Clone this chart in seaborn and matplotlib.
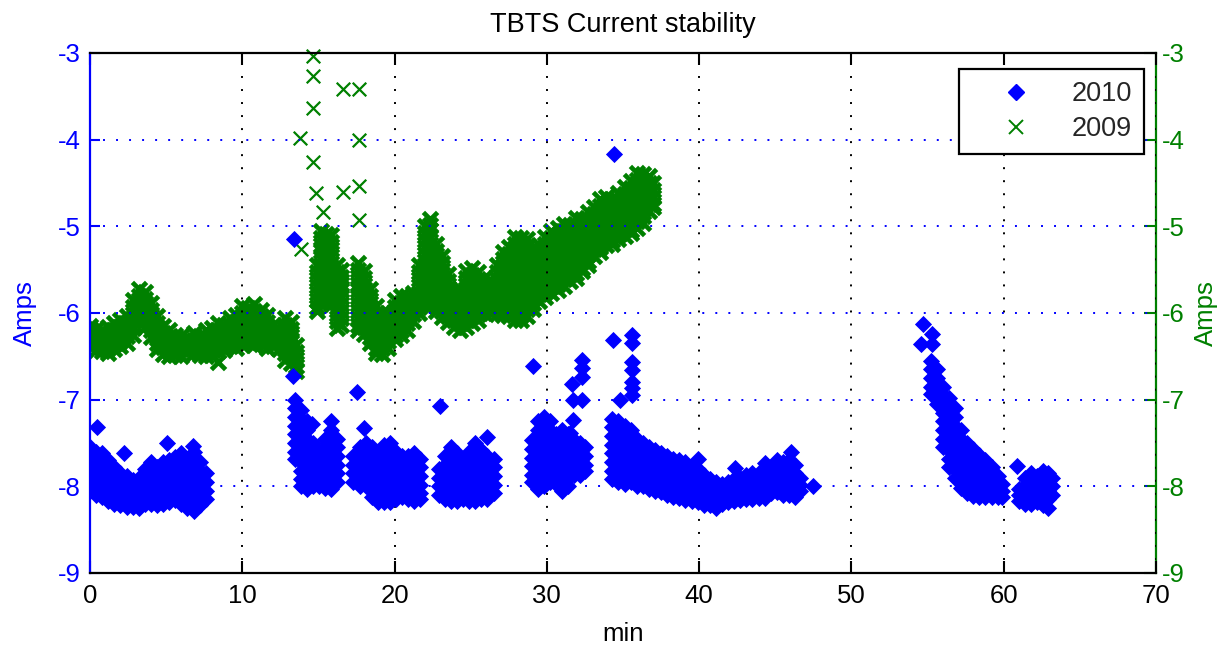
import matplotlib
matplotlib.use("Agg")
import matplotlib.pyplot as plt
from matplotlib.lines import Line2D
import numpy as np
import pandas as pd
import seaborn as sns

# ---------------------------------------------------------------------------
# 2010 run: (minute, [current readings in A]) columns, grouped by acquisition
# ---------------------------------------------------------------------------
run2010_a = [
    (0.0, [-7.55, -7.65, -7.75, -7.85, -7.95, -8.05]),
    (0.4, [-7.6, -7.7, -7.8, -7.9, -8.0, -8.1]),
    (0.8, [-7.62, -7.72, -7.82, -7.92, -8.02, -8.12]),
    (1.2, [-7.7, -7.8, -7.9, -8.0, -8.1, -8.17]),
    (1.6, [-7.78, -7.88, -7.98, -8.08, -8.2]),
    (2.0, [-7.85, -7.95, -8.05, -8.15, -8.22]),
    (2.4, [-7.88, -7.98, -8.08, -8.18, -8.24]),
    (2.8, [-7.93, -8.03, -8.13, -8.24]),
    (3.2, [-7.9, -8.0, -8.1, -8.2, -8.25]),
    (3.6, [-7.8, -7.9, -8.0, -8.1, -8.2]),
    (4.0, [-7.72, -7.82, -7.92, -8.02, -8.12, -8.2]),
    (4.4, [-7.78, -7.88, -7.98, -8.08, -8.18, -8.22]),
    (4.8, [-7.72, -7.82, -7.92, -8.02, -8.12, -8.2]),
    (5.2, [-7.7, -7.8, -7.9, -8.0, -8.1, -8.18]),
    (5.6, [-7.66, -7.76, -7.86, -7.96, -8.06, -8.16]),
    (6.0, [-7.62, -7.72, -7.82, -7.92, -8.02, -8.12, -8.2]),
    (6.4, [-7.68, -7.78, -7.88, -7.98, -8.08, -8.18, -8.25]),
    (6.8, [-7.6, -7.7, -7.8, -7.9, -8.0, -8.1, -8.2, -8.28]),
    (7.2, [-7.72, -7.82, -7.92, -8.02, -8.12, -8.22]),
    (7.6, [-7.85, -7.95, -8.05, -8.15]),
]
run2010_b = [
    (13.45, [-7.0, -7.1, -7.2, -7.3, -7.4, -7.5, -7.6, -7.68]),
    (13.85, [-7.12, -7.22, -7.32, -7.42, -7.52, -7.62, -7.72, -7.82, -7.92, -8.0]),
    (14.25, [-7.25, -7.35, -7.45, -7.55, -7.65, -7.75, -7.85, -7.95, -8.03]),
    (14.65, [-7.5, -7.6, -7.7, -7.8, -7.9, -8.0]),
    (15.05, [-7.6, -7.7, -7.8, -7.9, -8.0]),
    (15.45, [-7.45, -7.55, -7.65, -7.75, -7.85, -7.95, -8.02]),
    (15.85, [-7.25, -7.35, -7.45, -7.55, -7.65, -7.75, -7.85, -7.95, -8.03]),
    (16.25, [-7.45, -7.55, -7.65, -7.75, -7.85, -7.95]),
]
run2010_c = [
    (17.3, [-7.65, -7.75, -7.85, -7.95]),
    (17.7, [-7.55, -7.65, -7.75, -7.85, -7.95, -8.0]),
    (18.1, [-7.5, -7.6, -7.7, -7.8, -7.9, -8.0]),
    (18.5, [-7.55, -7.65, -7.75, -7.85, -7.95, -8.05, -8.12]),
    (18.9, [-7.6, -7.7, -7.8, -7.9, -8.0, -8.1, -8.18]),
    (19.3, [-7.52, -7.62, -7.72, -7.82, -7.92, -8.02, -8.12, -8.18]),
    (19.7, [-7.5, -7.6, -7.7, -7.8, -7.9, -8.0, -8.1, -8.18]),
    (20.1, [-7.6, -7.7, -7.8, -7.9, -8.0, -8.1, -8.15]),
    (20.5, [-7.65, -7.75, -7.85, -7.95, -8.05, -8.12]),
    (20.9, [-7.65, -7.75, -7.85, -7.95, -8.05, -8.15]),
    (21.3, [-7.62, -7.72, -7.82, -7.92, -8.02, -8.12, -8.17]),
    (21.7, [-7.68, -7.78, -7.88, -7.98, -8.08, -8.15]),
]
run2010_d = [
    (22.9, [-7.8, -7.9, -8.0, -8.1]),
    (23.3, [-7.65, -7.75, -7.85, -7.95, -8.05, -8.15]),
    (23.7, [-7.55, -7.65, -7.75, -7.85, -7.95, -8.05, -8.17]),
    (24.1, [-7.62, -7.72, -7.82, -7.92, -8.02, -8.12, -8.17]),
    (24.5, [-7.7, -7.8, -7.9, -8.0, -8.1, -8.15]),
    (24.9, [-7.6, -7.7, -7.8, -7.9, -8.0, -8.1, -8.17]),
    (25.3, [-7.5, -7.6, -7.7, -7.8, -7.9, -8.0, -8.1, -8.17]),
    (25.7, [-7.58, -7.68, -7.78, -7.88, -7.98, -8.08, -8.15]),
    (26.1, [-7.65, -7.75, -7.85, -7.95, -8.05, -8.15]),
    (26.5, [-7.68, -7.78, -7.88, -7.98, -8.08]),
]
run2010_e = [
    (29.0, [-7.47, -7.57, -7.67, -7.77, -7.87, -7.95]),
    (29.4, [-7.25, -7.35, -7.45, -7.55, -7.65, -7.75, -7.85, -7.95, -8.03]),
    (29.8, [-7.2, -7.3, -7.4, -7.5, -7.6, -7.7, -7.8, -7.9, -8.0]),
    (30.2, [-7.25, -7.35, -7.45, -7.55, -7.65, -7.75, -7.85, -7.95]),
    (30.6, [-7.4, -7.5, -7.6, -7.7, -7.8, -7.9, -7.97]),
    (31.0, [-7.35, -7.45, -7.55, -7.65, -7.75, -7.85, -7.95, -8.05]),
    (31.4, [-7.4, -7.5, -7.6, -7.7, -7.8, -7.9, -8.0]),
    (31.8, [-7.47, -7.57, -7.67, -7.77, -7.87]),
    (32.2, [-7.5, -7.6, -7.7, -7.8, -7.87]),
    (32.5, [-7.55, -7.65, -7.75, -7.82]),
]
run2010_f = [
    (34.3, [-7.22, -7.32, -7.42, -7.52, -7.62, -7.72, -7.82, -7.92]),
    (34.7, [-7.25, -7.35, -7.45, -7.55, -7.65, -7.75, -7.85, -7.95]),
    (35.1, [-7.3, -7.4, -7.5, -7.6, -7.7, -7.8, -7.9, -7.97]),
    (35.5, [-7.35, -7.45, -7.55, -7.65, -7.75, -7.85, -7.95]),
    (35.9, [-7.45, -7.55, -7.65, -7.75, -7.85, -7.95, -8.0]),
    (36.3, [-7.5, -7.6, -7.7, -7.8, -7.9, -8.0]),
    (36.7, [-7.55, -7.65, -7.75, -7.85, -7.95, -8.03]),
    (37.1, [-7.58, -7.68, -7.78, -7.88, -7.98, -8.05]),
    (37.5, [-7.62, -7.72, -7.82, -7.92, -8.02, -8.07]),
    (37.9, [-7.65, -7.75, -7.85, -7.95, -8.05, -8.1]),
    (38.3, [-7.68, -7.78, -7.88, -7.98, -8.08, -8.12]),
    (38.7, [-7.7, -7.8, -7.9, -8.0, -8.1, -8.14]),
    (39.1, [-7.72, -7.82, -7.92, -8.02, -8.12, -8.16]),
    (39.5, [-7.78, -7.88, -7.98, -8.08, -8.17]),
    (39.9, [-7.8, -7.9, -8.0, -8.1, -8.18]),
    (40.3, [-7.87, -7.97, -8.07, -8.17, -8.22]),
    (40.7, [-7.92, -8.02, -8.12, -8.22]),
    (41.1, [-7.95, -8.05, -8.15, -8.25]),
    (41.5, [-7.97, -8.07, -8.17, -8.2]),
    (41.9, [-7.95, -8.05, -8.15, -8.18]),
    (42.3, [-7.92, -8.02, -8.12, -8.17]),
    (42.7, [-7.9, -8.0, -8.1, -8.16]),
    (43.1, [-7.87, -7.97, -8.07, -8.15]),
    (43.5, [-7.85, -7.95, -8.05, -8.15]),
    (43.9, [-7.85, -7.95, -8.05, -8.13]),
    (44.3, [-7.83, -7.93, -8.03, -8.13]),
    (44.7, [-7.78, -7.88, -7.98, -8.08]),
    (45.1, [-7.7, -7.8, -7.9, -8.0, -8.07]),
    (45.5, [-7.72, -7.82, -7.92, -8.02, -8.1]),
    (45.9, [-7.7, -7.8, -7.9, -8.0, -8.1]),
    (46.3, [-7.75, -7.85, -7.95, -8.05, -8.12]),
    (46.6, [-7.9, -7.98, -8.05]),
]
run2010_g = [
    (55.2, [-6.55, -6.65, -6.75, -6.85, -6.93]),
    (55.6, [-6.65, -6.75, -6.85, -6.95, -7.05]),
    (56.0, [-6.85, -6.95, -7.05, -7.15, -7.25, -7.35, -7.45, -7.55]),
    (56.4, [-6.98, -7.08, -7.18, -7.28, -7.38, -7.48, -7.58, -7.68, -7.78]),
    (56.8, [-7.1, -7.2, -7.3, -7.4, -7.5, -7.6, -7.7, -7.8, -7.9]),
    (57.2, [-7.35, -7.45, -7.55, -7.65, -7.75, -7.85, -7.95, -8.02]),
    (57.6, [-7.5, -7.6, -7.7, -7.8, -7.9, -8.0, -8.08]),
    (58.0, [-7.57, -7.67, -7.77, -7.87, -7.97, -8.07, -8.11]),
    (58.4, [-7.64, -7.74, -7.84, -7.94, -8.04, -8.12]),
    (58.8, [-7.7, -7.8, -7.9, -8.0, -8.1, -8.12]),
    (59.2, [-7.78, -7.88, -7.98, -8.08, -8.12]),
    (59.6, [-7.88, -7.98, -8.08, -8.12]),
    (59.9, [-7.97, -8.05, -8.12]),
]
run2010_h = [
    (61.0, [-8.03, -8.1, -8.17]),
    (61.4, [-7.9, -8.0, -8.1, -8.2]),
    (61.8, [-7.85, -7.95, -8.05, -8.15, -8.2]),
    (62.2, [-7.88, -7.98, -8.08, -8.18]),
    (62.6, [-7.82, -7.92, -8.02, -8.12, -8.22]),
    (62.9, [-7.85, -7.95, -8.05, -8.15, -8.25]),
    (63.2, [-7.9, -8.0, -8.1]),
]
# single 2010 readings away from the main clouds
spikes2010_min = [0.44, 2.2, 5.05, 6.75, 13.3, 13.4, 14.6, 17.5, 18.0, 23.0,
                  26.1, 29.1, 31.55, 31.7, 31.7, 31.65, 32.3, 32.3, 32.3, 32.3,
                  34.35, 34.8, 34.4, 35.6, 35.6, 35.6, 35.6, 35.6, 35.6, 35.6,
                  39.9, 42.35, 44.3, 46.05, 47.5, 54.7, 55.3, 54.6, 55.3, 60.85]
spikes2010_amps = [-7.32, -7.62, -7.5, -7.53, -6.73, -5.15, -7.28, -6.91, -7.33, -7.07,
                   -7.43, -6.61, -7.38, -7.24, -7.0, -6.82, -7.0, -6.74, -6.64, -6.54,
                   -6.31, -7.0, -4.17, -6.25, -6.35, -6.56, -6.66, -6.8, -6.87, -6.95,
                   -7.69, -7.79, -7.73, -7.6, -8.0, -6.13, -6.24, -6.36, -6.36, -7.77]

# ---------------------------------------------------------------------------
# 2009 run
# ---------------------------------------------------------------------------
run2009_a = [
    (0.0, [-6.15, -6.23, -6.31, -6.39]),
    (0.4, [-6.19, -6.27, -6.35, -6.43]),
    (0.8, [-6.2, -6.28, -6.36, -6.44]),
    (1.2, [-6.16, -6.24, -6.32, -6.4, -6.46]),
    (1.6, [-6.12, -6.2, -6.28, -6.36, -6.42]),
    (2.0, [-6.08, -6.16, -6.24, -6.32, -6.38]),
    (2.4, [-6.03, -6.11, -6.19, -6.27, -6.35]),
    (2.8, [-5.85, -5.93, -6.01, -6.09, -6.17, -6.25]),
    (3.2, [-5.72, -5.8, -5.88, -5.96, -6.04, -6.12]),
    (3.6, [-5.76, -5.84, -5.92, -6.0, -6.08, -6.16]),
    (4.0, [-5.88, -5.96, -6.04, -6.12, -6.2, -6.28]),
    (4.4, [-6.03, -6.11, -6.19, -6.27, -6.35, -6.42]),
    (4.8, [-6.15, -6.23, -6.31, -6.39, -6.47]),
    (5.2, [-6.2, -6.28, -6.36, -6.44, -6.5]),
    (5.6, [-6.25, -6.33, -6.41, -6.49]),
    (6.0, [-6.26, -6.34, -6.42, -6.5]),
    (6.4, [-6.29, -6.37, -6.45]),
    (6.8, [-6.23, -6.31, -6.39, -6.46]),
    (7.2, [-6.26, -6.34, -6.42, -6.48]),
    (7.6, [-6.2, -6.28, -6.36, -6.44, -6.5]),
    (8.0, [-6.17, -6.25, -6.33, -6.41, -6.48]),
    (8.4, [-6.12, -6.2, -6.28, -6.36, -6.44, -6.57]),
    (8.8, [-6.14, -6.22, -6.3, -6.38, -6.43]),
    (9.2, [-6.06, -6.14, -6.22, -6.3, -6.38]),
    (9.6, [-6.02, -6.1, -6.18, -6.26, -6.34, -6.4]),
    (10.0, [-5.92, -6.0, -6.08, -6.16, -6.24, -6.32, -6.37]),
    (10.4, [-5.94, -6.02, -6.1, -6.18, -6.26, -6.34]),
    (10.8, [-5.9, -5.98, -6.06, -6.14, -6.22, -6.3, -6.37]),
    (11.2, [-5.96, -6.04, -6.12, -6.2, -6.28, -6.36]),
    (11.6, [-6.02, -6.1, -6.18, -6.26, -6.34, -6.4]),
    (12.0, [-6.14, -6.22, -6.3, -6.38]),
    (12.4, [-6.18, -6.26, -6.34, -6.42]),
    (12.8, [-6.06, -6.14, -6.22, -6.3, -6.38, -6.46, -6.54]),
    (13.2, [-6.1, -6.18, -6.26, -6.34, -6.42, -6.5, -6.58]),
    (13.5, [-6.37, -6.45, -6.53, -6.61, -6.67]),
]
run2009_b = [
    (14.9, [-5.45, -5.53, -5.61, -5.69, -5.77, -5.85, -5.93, -5.98]),
    (15.2, [-5.05, -5.13, -5.21, -5.29, -5.37, -5.45, -5.53, -5.61, -5.69, -5.77, -5.85, -5.9]),
    (15.5, [-5.09, -5.17, -5.25, -5.33, -5.41, -5.49, -5.57, -5.65, -5.73]),
    (15.8, [-5.1, -5.18, -5.26, -5.34, -5.42, -5.5, -5.58, -5.66, -5.74, -5.82, -5.9]),
    (16.2, [-5.45, -5.53, -5.61, -5.69, -5.77, -5.85, -5.93, -6.01, -6.09, -6.17]),
    (16.5, [-5.5, -5.58, -5.66, -5.74, -5.82, -5.9, -5.98, -6.06, -6.14]),
]
run2009_c = [
    (17.6, [-5.42, -5.5, -5.58, -5.66, -5.74, -5.82, -5.9, -5.98, -6.06, -6.14, -6.2]),
    (18.0, [-5.52, -5.6, -5.68, -5.76, -5.84, -5.92, -6.0, -6.08, -6.16, -6.24]),
    (18.4, [-5.72, -5.8, -5.88, -5.96, -6.04, -6.12, -6.2, -6.28, -6.35]),
    (18.8, [-5.92, -6.0, -6.08, -6.16, -6.24, -6.32, -6.4, -6.46]),
    (19.2, [-6.0, -6.08, -6.16, -6.24, -6.32, -6.4, -6.47]),
    (19.6, [-6.0, -6.08, -6.16, -6.24, -6.32, -6.4]),
    (20.0, [-5.85, -5.93, -6.01, -6.09, -6.17, -6.25, -6.3]),
    (20.4, [-5.8, -5.88, -5.96, -6.04, -6.12, -6.2, -6.25]),
    (20.8, [-5.8, -5.88, -5.96, -6.04, -6.12, -6.2]),
    (21.2, [-5.77, -5.85, -5.93, -6.01, -6.09]),
    (21.6, [-5.45, -5.53, -5.61, -5.69, -5.77, -5.85, -5.93, -6.0]),
    (22.0, [-5.0, -5.08, -5.16, -5.24, -5.32, -5.4, -5.48, -5.56, -5.64, -5.72, -5.8, -5.88]),
    (22.3, [-4.92, -4.98, -5.04, -5.12, -5.2, -5.28, -5.36, -5.44, -5.52, -5.6, -5.68, -5.76, -5.84, -5.92]),
    (22.7, [-5.2, -5.28, -5.36, -5.44, -5.52, -5.6, -5.68, -5.76, -5.84, -5.92, -5.98]),
    (23.1, [-5.34, -5.42, -5.5, -5.58, -5.66, -5.74, -5.82, -5.9, -5.98, -6.05]),
    (23.5, [-5.55, -5.63, -5.71, -5.79, -5.87, -5.95, -6.03, -6.1]),
    (23.9, [-5.76, -5.84, -5.92, -6.0, -6.08, -6.16]),
    (24.3, [-5.72, -5.8, -5.88, -5.96, -6.04, -6.12, -6.2]),
    (24.7, [-5.52, -5.6, -5.68, -5.76, -5.84, -5.92, -6.0, -6.08, -6.16]),
    (25.1, [-5.48, -5.56, -5.64, -5.72, -5.8, -5.88, -5.96, -6.04, -6.12]),
    (25.5, [-5.53, -5.61, -5.69, -5.77, -5.85, -5.93, -6.01, -6.08]),
    (25.9, [-5.6, -5.68, -5.76, -5.84, -5.92, -6.0]),
    (26.3, [-5.63, -5.71, -5.79, -5.87, -5.95, -6.0]),
    (26.7, [-5.45, -5.53, -5.61, -5.69, -5.77, -5.85, -5.93, -6.01]),
    (27.1, [-5.3, -5.38, -5.46, -5.54, -5.62, -5.7, -5.78, -5.86, -5.94, -6.02]),
    (27.5, [-5.24, -5.32, -5.4, -5.48, -5.56, -5.64, -5.72, -5.8, -5.88, -5.96, -6.04]),
    (27.9, [-5.12, -5.2, -5.28, -5.36, -5.44, -5.52, -5.6, -5.68, -5.76, -5.84, -5.92, -6.0, -6.08]),
    (28.3, [-5.14, -5.22, -5.3, -5.38, -5.46, -5.54, -5.62, -5.7, -5.78, -5.86, -5.94, -6.02, -6.08]),
    (28.7, [-5.15, -5.23, -5.31, -5.39, -5.47, -5.55, -5.63, -5.71, -5.79, -5.87, -5.95, -6.03]),
    (29.1, [-5.25, -5.33, -5.41, -5.49, -5.57, -5.65, -5.73, -5.81, -5.89, -5.95]),
    (29.5, [-5.22, -5.3, -5.38, -5.46, -5.54, -5.62, -5.7, -5.78, -5.86]),
    (29.9, [-5.12, -5.2, -5.28, -5.36, -5.44, -5.52, -5.6, -5.68, -5.76, -5.82]),
    (30.3, [-5.05, -5.13, -5.21, -5.29, -5.37, -5.45, -5.53, -5.61, -5.69, -5.77]),
    (30.7, [-5.02, -5.1, -5.18, -5.26, -5.34, -5.42, -5.5, -5.58, -5.66, -5.73]),
    (31.1, [-4.97, -5.05, -5.13, -5.21, -5.29, -5.37, -5.45, -5.53, -5.61, -5.69]),
    (31.5, [-4.99, -5.07, -5.15, -5.23, -5.31, -5.39, -5.47, -5.55, -5.63]),
    (31.9, [-4.9, -4.98, -5.06, -5.14, -5.22, -5.3, -5.38, -5.46, -5.54, -5.6]),
    (32.3, [-4.92, -5.0, -5.08, -5.16, -5.24, -5.32, -5.4, -5.48, -5.52]),
    (32.7, [-4.84, -4.92, -5.0, -5.08, -5.16, -5.24, -5.32, -5.4, -5.45]),
    (33.1, [-4.78, -4.86, -4.94, -5.02, -5.1, -5.18, -5.26, -5.34]),
    (33.5, [-4.68, -4.76, -4.84, -4.92, -5.0, -5.08, -5.16, -5.24, -5.3]),
    (33.9, [-4.66, -4.74, -4.82, -4.9, -4.98, -5.06, -5.14, -5.22]),
    (34.3, [-4.68, -4.76, -4.84, -4.92, -5.0, -5.08, -5.16, -5.2]),
    (34.7, [-4.62, -4.7, -4.78, -4.86, -4.94, -5.02, -5.1, -5.15]),
    (35.1, [-4.55, -4.63, -4.71, -4.79, -4.87, -4.95, -5.03, -5.11]),
    (35.5, [-4.48, -4.56, -4.64, -4.72, -4.8, -4.88, -4.96, -5.04, -5.08]),
    (35.9, [-4.38, -4.46, -4.54, -4.62, -4.7, -4.78, -4.86, -4.94, -5.02]),
    (36.3, [-4.4, -4.48, -4.56, -4.64, -4.72, -4.8, -4.88, -4.96]),
    (36.7, [-4.42, -4.5, -4.58, -4.66, -4.74, -4.82]),
    (37.0, [-4.5, -4.58, -4.66, -4.74, -4.78]),
]
# single 2009 readings above the main band
spikes2009_min = [13.87, 13.8, 14.66, 14.66, 14.66, 14.66, 14.84, 15.3,
                  16.6, 16.6, 17.66, 17.66, 17.66, 17.66]
spikes2009_amps = [-5.26, -3.98, -3.03, -3.27, -3.64, -4.26, -4.62, -4.83,
                   -3.41, -4.6, -3.41, -4.0, -4.53, -4.93]

x_ticks = [0, 10, 20, 30, 40, 50, 60, 70]
y_ticks = [-9, -8, -7, -6, -5, -4, -3]
series_labels = ["2010", "2009"]
title_text = "TBTS Current stability"

BLUE = "#0000ff"
GREEN = "#008000"


def to_frame(columns):
    rows = [(m, a) for m, amps in columns for a in amps]
    return pd.DataFrame(rows, columns=["min", "Amps"])


def points_frame(minutes, amps):
    return pd.DataFrame({"min": minutes, "Amps": amps})


df2010 = pd.concat([
    to_frame(run2010_a + run2010_b + run2010_c + run2010_d + run2010_e
             + run2010_f + run2010_g + run2010_h),
    points_frame(spikes2010_min, spikes2010_amps)], ignore_index=True)
df2009_band = to_frame(run2009_a + run2009_b + run2009_c)
df2009_spikes = points_frame(spikes2009_min, spikes2009_amps)

sns.set_style("white")
plt.rcParams["font.family"] = ["Liberation Sans", "DejaVu Sans"]
plt.rcParams["axes.unicode_minus"] = False

W, H = 1218, 645
fig = plt.figure(figsize=(W / 100, H / 100), dpi=100)
fig.subplots_adjust(left=90 / W, right=1156 / W, top=1 - 53 / H, bottom=1 - 573 / H)
ax1 = fig.add_subplot(111)
ax2 = ax1.twinx()
# left (2010) axes on top, transparent, so its grid shows through the 2009 cloud
ax1.set_zorder(ax2.get_zorder() + 1)
ax1.patch.set_visible(False)
ax2.patch.set_facecolor("white")

# dense 2009 band: heavy strokes so the overlapping crosses read as one cloud
sns.scatterplot(data=df2009_band, x="min", y="Amps", ax=ax2, marker="x", s=105,
                color=GREEN, linewidth=3.4, legend=False)
sns.scatterplot(data=df2009_spikes, x="min", y="Amps", ax=ax2, marker="x", s=95,
                color=GREEN, linewidth=1.6, legend=False, clip_on=False)
sns.scatterplot(data=df2010, x="min", y="Amps", ax=ax1, marker="D", s=66,
                color=BLUE, edgecolor=BLUE, linewidth=0.6, legend=False)

for ax in (ax1, ax2):
    ax.set_xlim(0, 70)
    ax.set_ylim(-9, -3)
    ax.set_yticks(y_ticks)
    ax.set_xticks(x_ticks)

dots = (0, (1, 5.7))
ax1.set_axisbelow(True)
ax1.xaxis.grid(True, color="black", linestyle=dots, linewidth=1.4)
ax1.yaxis.grid(True, color=BLUE, linestyle=dots, linewidth=1.4)
ax2.grid(False)

# spines
for side in ("top", "bottom"):
    ax1.spines[side].set_color("black")
    ax1.spines[side].set_linewidth(1.6)
    ax2.spines[side].set_visible(False)
ax1.spines["left"].set_color(BLUE)
ax1.spines["left"].set_linewidth(1.6)
ax1.spines["right"].set_visible(False)
ax2.spines["left"].set_visible(False)
ax2.spines["right"].set_color(GREEN)
ax2.spines["right"].set_linewidth(1.6)

FS = 18.5
ax1.tick_params(axis="x", direction="in", length=8.5, width=1.5, color="black",
                top=True, bottom=True, labelsize=FS, labelcolor="black", pad=8)
ax1.tick_params(axis="y", direction="in", length=7, width=1.5, color=BLUE,
                left=True, right=False, labelsize=FS, labelcolor=BLUE, pad=7)
ax2.tick_params(axis="y", direction="in", length=9, width=1.5, color=GREEN,
                right=True, left=False, labelsize=FS, labelcolor=GREEN, pad=4)
ax2.tick_params(axis="x", bottom=False, top=False, labelbottom=False)

ax1.set_xlabel("min", fontsize=FS, color="black")
ax1.xaxis.set_label_coords(0.5, -0.117)
ax1.xaxis.label.set_va("center")
ax1.set_ylabel("Amps", fontsize=FS, color=BLUE)
ax1.yaxis.set_label_coords(-0.061, 0.5)
ax1.yaxis.label.set_va("center")
ax2.set_ylabel("Amps", fontsize=FS, color=GREEN)
ax2.yaxis.set_label_coords(1.0465, 0.5)
ax2.yaxis.label.set_va("center")

ax1.set_title(title_text, fontsize=19.5, color="black", pad=15)

handles = [
    Line2D([], [], linestyle="none", marker="D", markersize=8.5, color=BLUE,
           markeredgecolor=BLUE),
    Line2D([], [], linestyle="none", marker="x", markersize=10, color=GREEN,
           markeredgewidth=1.4),
]
leg = ax1.legend(handles, series_labels, loc="upper right",
                 bbox_to_anchor=(1144 / W, 1 - 69 / H), bbox_transform=fig.transFigure,
                 prop={"size": 19.5}, frameon=True, fancybox=False, framealpha=1,
                 edgecolor="black", borderpad=0.45, handlelength=3.33,
                 handletextpad=0.37, labelspacing=0.33, borderaxespad=0)
leg.get_frame().set_linewidth(1.6)
leg.set_zorder(10)

fig.savefig("out.png", dpi=100)
